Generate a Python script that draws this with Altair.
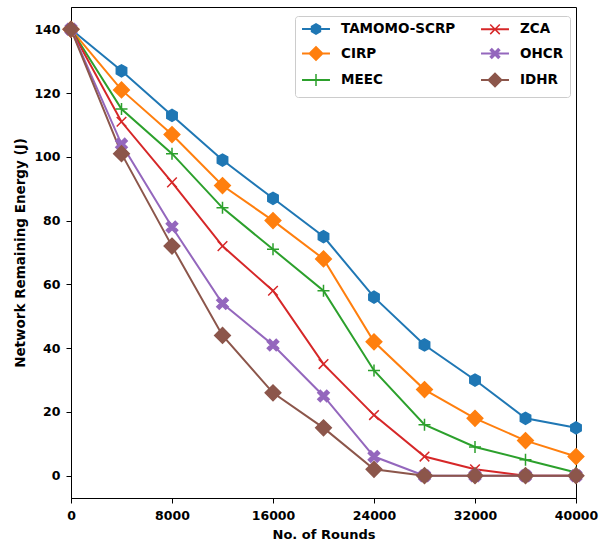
import math
import altair as alt
import pandas as pd

# ---------------- data ----------------
rounds = [0, 4000, 8000, 12000, 16000, 20000, 24000, 28000, 32000, 36000, 40000]
series_names = ["TAMOMO-SCRP", "CIRP", "MEEC", "ZCA", "OHCR", "IDHR"]
tamomo_scrp = [140, 127, 113, 99, 87, 75, 56, 41, 30, 18, 15]
cirp = [140, 121, 107, 91, 80, 68, 42, 27, 18, 11, 6]
meec = [140, 115, 101, 84, 71, 58, 33, 16, 9, 5, 1]
zca = [140, 111, 92, 72, 58, 35, 19, 6, 2, 0, 0]
ohcr = [140, 104, 78, 54, 41, 25, 6, 0, 0, 0, 0]
idhr = [140, 101, 72, 44, 26, 15, 2, 0, 0, 0, 0]
x_ticks = [0, 8000, 16000, 24000, 32000, 40000]
y_ticks = [0, 20, 40, 60, 80, 100, 120, 140]
colors = ["#1f77b4", "#ff7f0e", "#2ca02c", "#d62728", "#9467bd", "#8c564b"]

values = [tamomo_scrp, cirp, meec, zca, ohcr, idhr]
rows = []
for name, vals in zip(series_names, values):
    for r, v in zip(rounds, vals):
        rows.append({"series": name, "rounds": r, "energy": v})
df = pd.DataFrame(rows)


# ---------------- marker shapes ----------------
def oriented(pts):
    a = 0.0
    for i in range(len(pts)):
        x1, y1 = pts[i]
        x2, y2 = pts[(i + 1) % len(pts)]
        a += x1 * y2 - x2 * y1
    return pts if a >= 0 else pts[::-1]


def poly(pts, k=1.0):
    pts = oriented(pts)
    return "M" + "L".join(f"{x * k:.3f},{y * k:.3f}" for x, y in pts) + "Z"


def rot(pts, deg):
    c, s = math.cos(math.radians(deg)), math.sin(math.radians(deg))
    return [(x * c - y * s, x * s + y * c) for x, y in pts]


def rect(x0, y0, x1, y1):
    return [(x0, y0), (x1, y0), (x1, y1), (x0, y1)]


def hexagon(k):
    return poly([(math.cos(math.radians(90 + 60 * i)), -math.sin(math.radians(90 + 60 * i))) for i in range(6)], k)


def diamond(k):
    return poly([(0, -1), (1, 0), (0, 1), (-1, 0)], k)


def fat_x(k, t=0.28):
    base = [(-t, -1), (t, -1), (t, -t), (1, -t), (1, t), (t, t), (t, 1), (-t, 1), (-t, t), (-1, t), (-1, -t), (-t, -t)]
    return poly(rot(base, 45), k)


# plot markers (stroked plus / x, filled others)
plot_marks = {
    "TAMOMO-SCRP": hexagon(1.0),
    "CIRP": diamond(1.3),
    "MEEC": "M-1,0L1,0M0,-1L0,1",
    "ZCA": "M-0.8,-0.8L0.8,0.8M-0.8,0.8L0.8,-0.8",
    "OHCR": fat_x(1.05),
    "IDHR": diamond(1.3),
}

# legend symbols: everything filled (line handle as thin bar)
tw = 0.125
leg_line = poly(rect(-2.33, -0.167, 2.33, 0.167))
leg_plus = poly(rect(-1, -tw, 1, tw)) + poly(rect(-tw, -1, tw, 1))
arm = rect(-1.13, -tw, 1.13, tw)
leg_x = poly(rot(arm, 45)) + poly(rot(arm, -45))
leg_marks = {
    "TAMOMO-SCRP": hexagon(1.0),
    "CIRP": diamond(1.3),
    "MEEC": leg_plus,
    "ZCA": leg_x,
    "OHCR": fat_x(1.05),
    "IDHR": diamond(1.3),
}

# ---------------- encodings ----------------
xenc = alt.X(
    "rounds:Q",
    scale=alt.Scale(domain=[0, 40000], nice=False, zero=False),
    axis=alt.Axis(values=x_ticks, format="d", title="No. of Rounds", labelFlush=False,
                  labelPadding=6, titlePadding=7, titleFontSize=13),
)
yenc = alt.Y(
    "energy:Q",
    scale=alt.Scale(domain=[-7, 147], nice=False, zero=False),
    axis=alt.Axis(values=y_ticks, format="d", title="Network Remaining Energy (J)", labelFlush=False,
                  labelPadding=6, titlePadding=6, titleFontSize=13.5),
)

base = alt.Chart(df)

lines = base.mark_line(strokeWidth=2).encode(
    x=xenc,
    y=yenc,
    color=alt.Color("series:N", scale=alt.Scale(domain=series_names, range=colors), legend=None),
)

points = base.mark_point(filled=True, size=144, opacity=1, strokeWidth=1.5).encode(
    x=xenc,
    y=yenc,
    fill=alt.Fill("series:N", scale=alt.Scale(domain=series_names, range=colors), legend=None),
    stroke=alt.Stroke("series:N", scale=alt.Scale(domain=series_names, range=colors), legend=None),
    shape=alt.Shape(
        "series:N",
        scale=alt.Scale(domain=series_names, range=[plot_marks[s] for s in series_names]),
        legend=None,
    ),
)

legend = alt.Legend(
    title=None,
    orient="none",
    legendX=224,
    legendY=9,
    columns=2,
    symbolSize=144,
    symbolOffset=8,
    symbolOpacity=1,
    labelFont="DejaVu Sans",
    labelFontSize=13.5,
    labelFontWeight="bold",
    labelColor="black",
    labelOffset=18,
    columnPadding=22,
    rowPadding=4.5,
    padding=6,
    strokeColor="#cccccc",
    fillColor="white",
    cornerRadius=3,
)

legend_layer = base.transform_filter("false").mark_point(filled=True, size=144, opacity=1).encode(
    fill=alt.Fill(
        "series:N",
        scale=alt.Scale(domain=series_names, range=colors),
        legend=legend,
    ),
    shape=alt.Shape(
        "series:N",
        scale=alt.Scale(domain=series_names, range=[leg_line + leg_marks[s] for s in series_names]),
        legend=legend,
    ),
)

chart = (
    alt.layer(lines, points, legend_layer)
    .resolve_scale(color="independent", fill="independent", stroke="independent", shape="independent")
    .properties(
        width=505,
        height=491,
        autosize="none",
        padding={"left": 71, "top": 7, "right": 37, "bottom": 54},
        background="white",
    )
    .configure_view(stroke="black", strokeWidth=1)
    .configure_axis(
        grid=False,
        domainColor="black",
        domainWidth=1,
        tickColor="black",
        tickSize=5,
        tickWidth=1,
        labelFont="DejaVu Sans",
        labelFontSize=12.5,
        labelFontWeight="bold",
        labelColor="black",
        titleFont="DejaVu Sans",
        titleFontWeight="bold",
        titleColor="black",
    )
)

chart.save("out.html", embed_options={"renderer": "svg", "actions": False})
